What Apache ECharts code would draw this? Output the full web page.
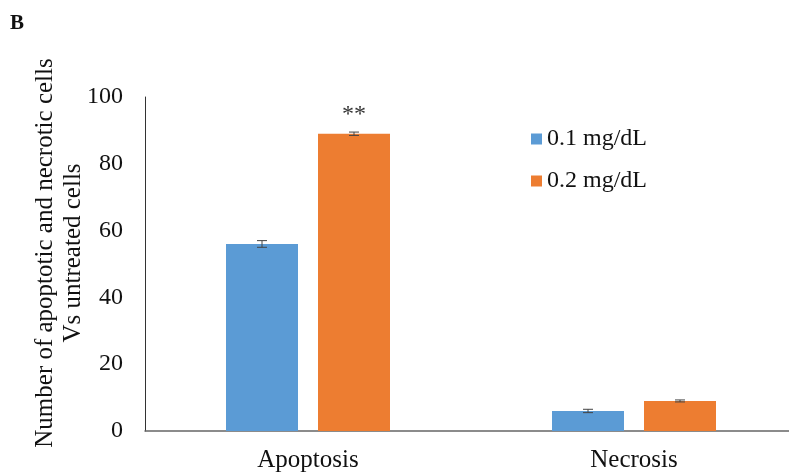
<!DOCTYPE html>
<html><head><meta charset="utf-8">
<script src="https://cdn.jsdelivr.net/npm/echarts@6/dist/echarts.min.js"></script>
<style>html,body{margin:0;padding:0;background:#fff}#c{width:789px;height:472px}</style>
</head><body><div id="c"></div>
<script>
const categories = ['Apoptosis', 'Necrosis'];
const seriesNames = ['0.1 mg/dL', '0.2 mg/dL'];
const low = [56, 6];
const high = [89, 9];
const lowErr = [1, 0.5];
const highErr = [0.5, 0.3];
const highSig = ['**', ''];
const yTicks = [0, 20, 40, 60, 80, 100];

const FONT = '"Liberation Serif", "Times New Roman", serif';
const BAR_W = 72, GAP = 20;
const colors = ['#5B9BD5', '#ED7D31'];

function errSeries(vals, errs, sIdx, sig) {
  return {
    type: 'custom',
    silent: true,
    z: 5,
    data: vals.map((v, i) => [i, v, errs[i]]),
    renderItem: function (params, api) {
      const i = api.value(0), v = api.value(1), e = api.value(2);
      const off = (sIdx - 0.5) * (BAR_W + GAP);
      const top = api.coord([i, v + e]);
      const bot = api.coord([i, v - e]);
      const x = top[0] + off;
      const cw = 5;
      const children = [
        {type: 'line', shape: {x1: x, y1: top[1], x2: x, y2: bot[1]}, style: {stroke: '#444', lineWidth: 1}},
        {type: 'line', shape: {x1: x - cw, y1: top[1], x2: x + cw, y2: top[1]}, style: {stroke: '#444', lineWidth: 1}},
        {type: 'line', shape: {x1: x - cw, y1: bot[1], x2: x + cw, y2: bot[1]}, style: {stroke: '#444', lineWidth: 1}}
      ];
      const s = sig ? sig[i] : '';
      if (s) {
        children.push({type: 'text', style: {text: s, x: x, y: top[1] - 5, align: 'center', verticalAlign: 'bottom', font: '24px ' + FONT, fill: '#333'}});
      }
      return {type: 'group', children: children};
    }
  };
}

const chart = echarts.init(document.getElementById('c'));
chart.setOption({
  animation: false,
  textStyle: {fontFamily: FONT},
  graphic: [{type: 'text', left: 10, top: 13, style: {text: 'B', font: 'bold 21px ' + FONT, fill: '#111'}}],
  legend: {
    data: seriesNames,
    orient: 'vertical',
    left: 526, top: 122,
    itemWidth: 11, itemHeight: 11, itemGap: 18,
    icon: 'rect',
    textStyle: {fontSize: 24, fontFamily: FONT, color: '#111', lineHeight: 24}
  },
  grid: {left: 145, width: 652, top: 97, bottom: 41, outerBoundsMode: 'none', containLabel: false},
  xAxis: {
    type: 'category', data: categories,
    axisLine: {lineStyle: {color: '#666', width: 1.5}},
    axisTick: {show: false},
    axisLabel: {fontSize: 25, fontFamily: FONT, color: '#111', margin: 17}
  },
  yAxis: {
    type: 'value', min: yTicks[0], max: yTicks[yTicks.length - 1], interval: 20,
    name: 'Number of apoptotic and necrotic cells\nVs untreated cells',
    nameLocation: 'middle', nameGap: 58, nameMoveOverlap: false,
    nameTextStyle: {fontSize: 25, fontFamily: FONT, color: '#111', lineHeight: 28, padding: [0, 0, 0, 22]},
    axisLine: {show: true, lineStyle: {color: '#333', width: 1}},
    axisTick: {show: false},
    splitLine: {show: false},
    axisLabel: {fontSize: 24, fontFamily: FONT, color: '#111', margin: 22}
  },
  series: [
    {name: seriesNames[0], type: 'bar', data: low, barWidth: BAR_W, barGap: (GAP / BAR_W * 100) + '%', itemStyle: {color: colors[0]}},
    {name: seriesNames[1], type: 'bar', data: high, barWidth: BAR_W, barGap: (GAP / BAR_W * 100) + '%', itemStyle: {color: colors[1]}},
    errSeries(low, lowErr, 0, null),
    errSeries(high, highErr, 1, highSig)
  ]
});
</script></body></html>
